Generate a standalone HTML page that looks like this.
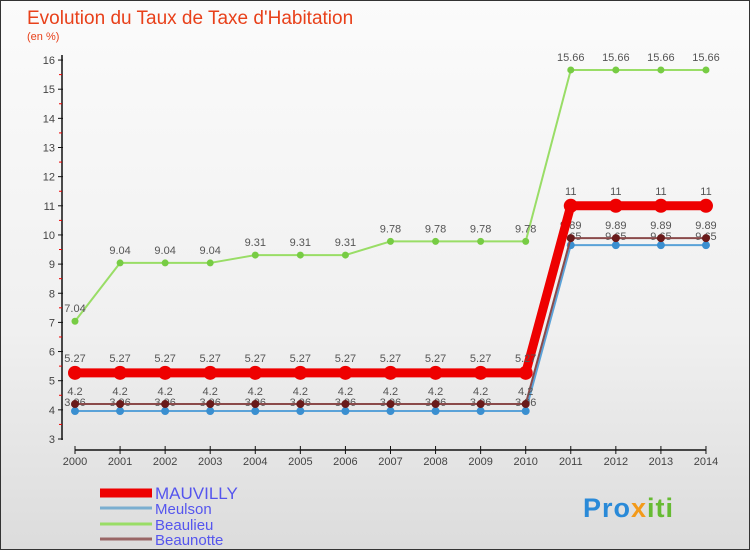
<!DOCTYPE html>
<html><head><meta charset="utf-8"><style>
body{margin:0;width:750px;height:550px;overflow:hidden;font-family:"Liberation Sans",sans-serif}
#wrap{position:absolute;left:0;top:0;width:748px;height:548px;border:1px solid #333;background:linear-gradient(#fbfbfb,#f0f0f0 60%,#dcdcdc)}
</style></head><body>
<div id="wrap">
<svg id="chart" width="750" height="550" style="position:absolute;left:-1px;top:-1px"></svg>
</div>
<script>
const years=[2000,2001,2002,2003,2004,2005,2006,2007,2008,2009,2010,2011,2012,2013,2014];
const mauvilly=[5.27,5.27,5.27,5.27,5.27,5.27,5.27,5.27,5.27,5.27,5.27,11,11,11,11];
const meulson=[3.96,3.96,3.96,3.96,3.96,3.96,3.96,3.96,3.96,3.96,3.96,9.65,9.65,9.65,9.65];
const beaulieu=[7.04,9.04,9.04,9.04,9.31,9.31,9.31,9.78,9.78,9.78,9.78,15.66,15.66,15.66,15.66];
const beaunotte=[4.2,4.2,4.2,4.2,4.2,4.2,4.2,4.2,4.2,4.2,4.2,9.89,9.89,9.89,9.89];
const yTicks=[3,4,5,6,7,8,9,10,11,12,13,14,15,16];
const NS="http://www.w3.org/2000/svg";
const svg=document.getElementById('chart');
const xs=i=>75+i*45.07;
const ys=v=>439-(v-3)*29.15;
function mk(t,a,p){const e=document.createElementNS(NS,t);for(const k in a)e.setAttribute(k,a[k]);(p||svg).appendChild(e);return e;}
function txt(x,y,s,a,p){const e=mk('text',Object.assign({x:x,y:y,'font-size':12,fill:'#444','font-family':'Liberation Sans, sans-serif'},a||{}),p);e.textContent=s;return e;}
let t=txt(27,24,"Evolution du Taux de Taxe d'Habitation",{'font-size':19,fill:'#e8401a'});


t=txt(27,40,"(en %)",{'font-size':11,fill:'#e8401a'});


let ax=mk('g',{});


mk('line',{x1:62,y1:55,x2:62,y2:440,stroke:'#111','stroke-width':1.5},ax);
yTicks.forEach(v=>{mk('line',{x1:58,y1:ys(v),x2:63,y2:ys(v),stroke:'#111'},ax);
 if(v<16)mk('line',{x1:59,y1:ys(v+0.5),x2:62,y2:ys(v+0.5),stroke:'#e00'},ax);
 txt(55,ys(v)+4,String(v),{'text-anchor':'end','font-size':11},ax);});
let xa=mk('g',{});


mk('line',{x1:xs(0),y1:450,x2:xs(14),y2:450,stroke:'#111','stroke-width':1.5},xa);
years.forEach((y,i)=>{mk('line',{x1:xs(i),y1:446,x2:xs(i),y2:454,stroke:'#111'},xa);
 txt(xs(i),465,String(y),{'text-anchor':'middle','font-size':11},xa);});
function series(name,data,color,w,r,dot,lblOff){
 const g=mk('g',{});
 
 
 mk('polyline',{points:data.map((v,i)=>xs(i)+','+ys(v)).join(' '),fill:'none',stroke:color,'stroke-width':w},g);
 data.forEach((v,i)=>{const c=mk('circle',{cx:xs(i),cy:ys(v),r:r,fill:dot},g);
  
  
  txt(xs(i),ys(v)-lblOff,String(v),{'text-anchor':'middle','font-size':11,fill:'#555'},g);});
}
series('meulson',meulson,'#5aa2d8',2,4,'#3a8fd0',5);
series('beaunotte',beaunotte,'#8a4a4a',2,4,'#6a1a1a',9);
series('beaulieu',beaulieu,'#99dd66',2,3.5,'#77cc44',9);
series('mauvilly',mauvilly,'#ee0000',9,7,'#ee0000',11);
const lg=mk('g',{});


[['MAUVILLY','#ee0000',9,499,17],['Meulson','#7aaed0',3,514,15],['Beaulieu','#99dd66',3,530,15],['Beaunotte','#996666',3,545,15]].forEach(l=>{
 const e=mk('g',{},lg);
 
 
 mk('line',{x1:100,y1:l[3]-6,x2:152,y2:l[3]-6,stroke:l[1],'stroke-width':l[2]},e);
 txt(155,l[3],l[0],{'font-size':l[4],fill:'#5555ee'},e);});
t=txt(583,517,"Pro",{'font-size':27,fill:'#2a8ad8','font-weight':'bold','letter-spacing':'1'});


const s1=document.createElementNS(NS,'tspan');s1.setAttribute('fill','#f39a1a');s1.textContent='x';t.appendChild(s1);
const s2=document.createElementNS(NS,'tspan');s2.setAttribute('fill','#66bb33');s2.textContent='iti';t.appendChild(s2);
</script>
</body></html>
